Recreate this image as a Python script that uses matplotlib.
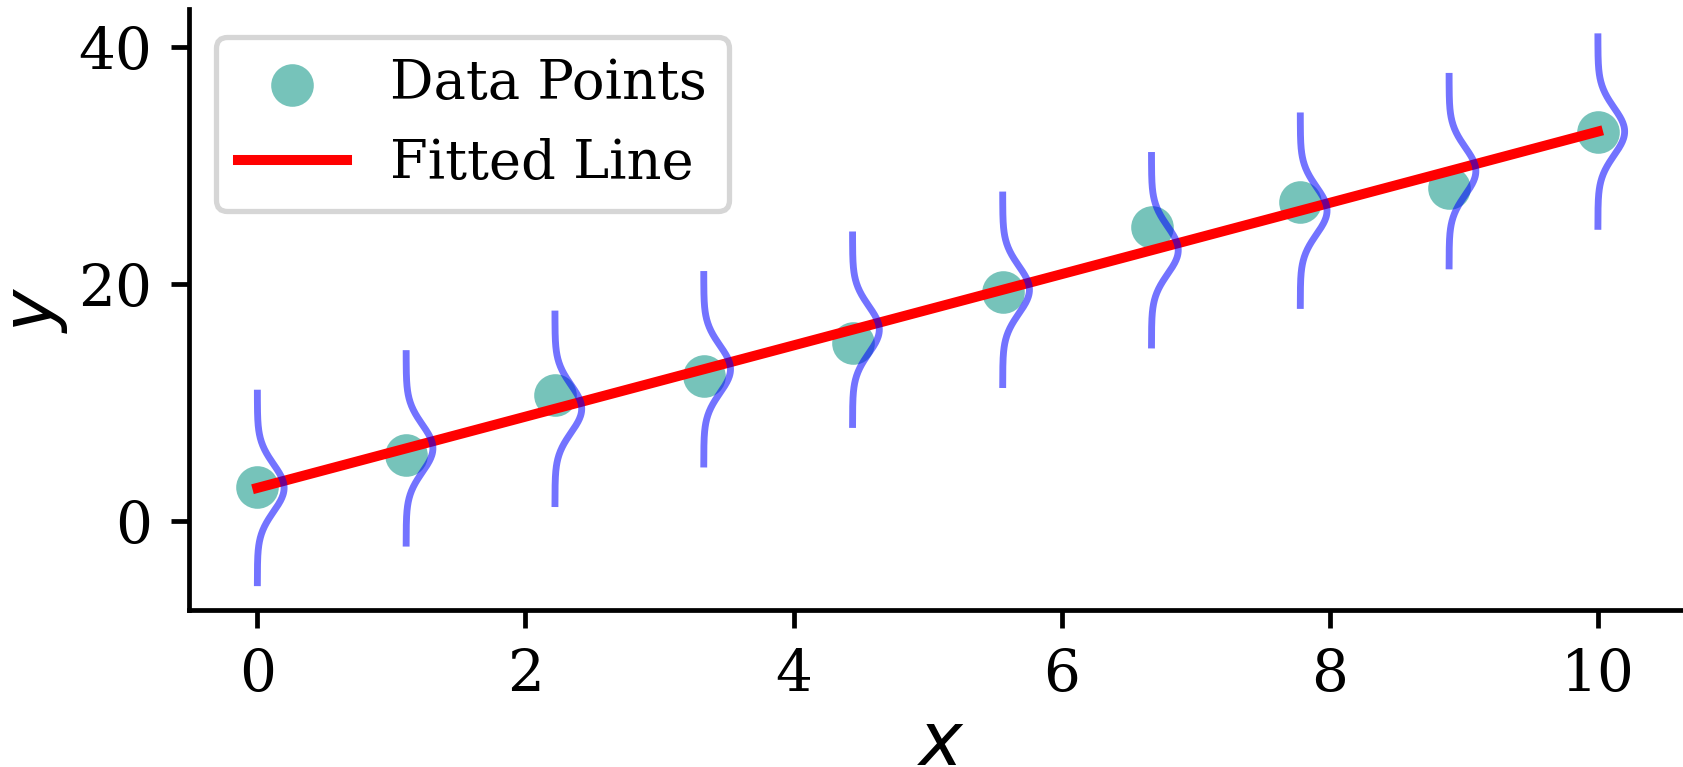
import numpy as np
import matplotlib.pyplot as plt

# points
x_data = np.array([0.0, 1.11, 2.22, 3.33, 4.44, 5.56, 6.67, 7.78, 8.89, 10.0])
y_data = np.array([2.87, 5.55, 10.64, 12.25, 15.07, 19.34, 24.85, 26.93, 28.15, 32.86])

# std of the noise drawn as a gaussian around each fitted value
sigma = 2.0

plt.rcParams['font.family'] = 'DejaVu Serif'

dpi = 380
fig = plt.figure(figsize=(1683 / dpi, 767 / dpi), dpi=dpi)
# the reference is cropped on the right and bottom, so the axes run past the edge
ax = fig.add_axes([189 / 1683, 1 - 610 / 767, 1504 / 1683, 600.5 / 767])

slope, intercept = np.polyfit(x_data, y_data, 1)
y_fit = slope * x_data + intercept

ax.scatter(x_data, y_data, s=50, color='#76c3ba', label='Data Points', zorder=2)
ax.plot(x_data, y_fit, color='red', linewidth=1.9, label='Fitted Line', zorder=3)

# gaussian density of the noise at every x, laid sideways
for xi, yi in zip(x_data, y_fit):
    yy = np.linspace(yi - 4 * sigma, yi + 4 * sigma, 200)
    pdf = np.exp(-(yy - yi) ** 2 / (2 * sigma ** 2)) / (sigma * np.sqrt(2 * np.pi))
    ax.plot(xi + pdf, yy, color='blue', alpha=0.55, linewidth=1.3, zorder=4)

ax.set_xlabel('$x$', fontsize=14)
ax.set_ylabel('$y$', fontsize=13.5)
ax.xaxis.set_label_coords(0.5, -0.163)
ax.yaxis.set_label_coords(-0.079, 0.5)
ax.set_xticks([0, 2, 4, 6, 8, 10])
ax.set_yticks([0, 20, 40])
ax.tick_params(labelsize=11, width=0.9)
ax.spines['top'].set_visible(False)
ax.spines['right'].set_visible(False)
ax.spines['left'].set_linewidth(0.9)
ax.spines['bottom'].set_linewidth(0.9)
ax.legend(loc='upper left', fontsize=10.3)

fig.savefig('out.png', dpi=dpi)
